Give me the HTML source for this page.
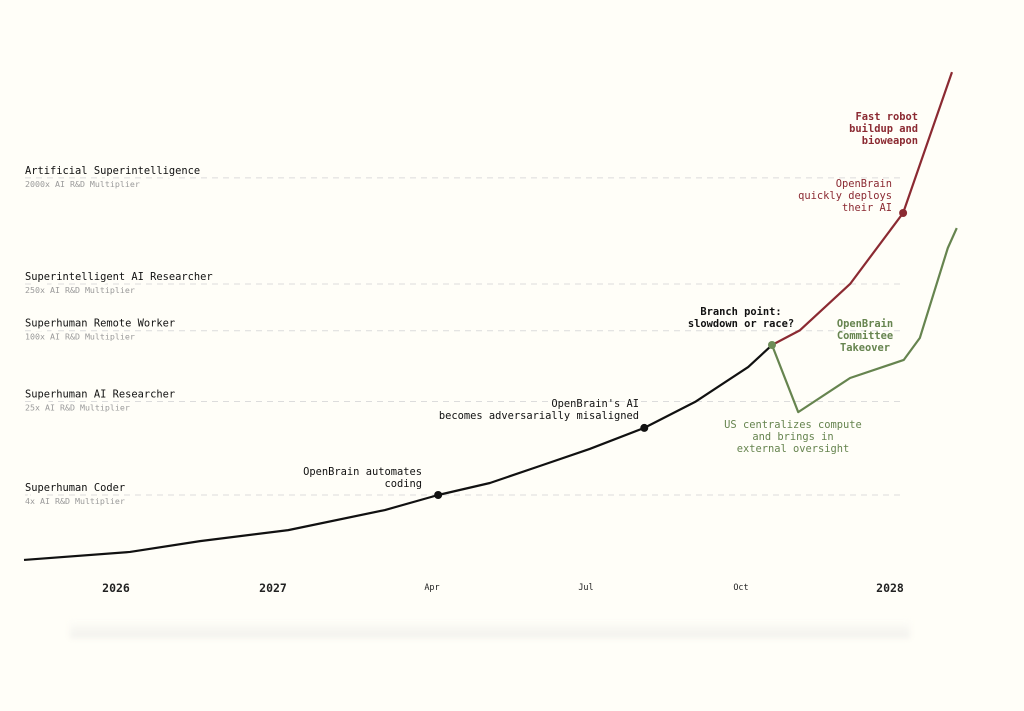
<!DOCTYPE html>
<html><head><meta charset="utf-8">
<style>
html,body{margin:0;padding:0;background:#fffef8;}
svg{display:block;font-family:"DejaVu Sans Mono","Liberation Mono",monospace;}
.shadow{position:absolute;left:70px;top:620px;width:840px;height:18px;background:linear-gradient(#fffef8,#f1f0ec);filter:blur(3px);}
</style></head>
<body>
<div class="shadow"></div>
<svg id="chart" width="1024" height="711" viewBox="0 0 1024 711" style="position:absolute;left:0;top:0">
<g id="levels"></g><g id="axis"></g><g id="series"></g><g id="annotations"></g>
</svg>
<script>
// Data
const levelNames = ["Superhuman Coder","Superhuman AI Researcher","Superhuman Remote Worker","Superintelligent AI Researcher","Artificial Superintelligence"];
const levelValues = [4,25,100,250,2000];
const tickDates = [2026,2027,2027.25,2027.5,2027.75,2028];
const tickLabels = ["2026","2027","Apr","Jul","Oct","2028"];
const mainDates = [2025.414,2026.089,2026.535,2027.024,2027.176,2027.26,2027.344,2027.425,2027.506,2027.594,2027.676,2027.762,2027.802];
const mainValues = [1.12,1.31,1.62,2.01,2.98,4,5.06,7.06,9.86,14.9,24.8,49.1,75.6];
const raceDates = [2027.802,2027.849,2027.933,2028.022,2028.104];
const raceValues = [75.6,101,250,1005,15900];
const slowDates = [2027.802,2027.846,2027.933,2028.023,2028.05,2028.097,2028.112];
const slowValues = [75.6,20.3,39.6,56.4,86.7,506,748];

const NS="http://www.w3.org/2000/svg";
const tickPx=[116,273,432,586,741,890];
function x(d){
  if(d<=tickDates[0]) return tickPx[0]+(d-tickDates[0])*157;
  for(let i=0;i<tickDates.length-1;i++){
    if(d<=tickDates[i+1]) return tickPx[i]+(d-tickDates[i])/(tickDates[i+1]-tickDates[i])*(tickPx[i+1]-tickPx[i]);
  }
  return tickPx[5]+(d-tickDates[5])*596;
}
function y(v){return 495-117.5*(Math.log10(v)-Math.log10(4));}
function mk(tag,attrs,parent,text){const e=document.createElementNS(NS,tag);for(const k in attrs)e.setAttribute(k,attrs[k]);if(text!==undefined)e.textContent=text;parent.appendChild(e);return e;}

const gL=document.getElementById('levels');
levelNames.forEach((n,i)=>{
  const yy=y(levelValues[i]);
  const ln=mk('line',{x1:25,x2:900,y1:yy,y2:yy,stroke:'#dcdcdc','stroke-width':1,'stroke-dasharray':'6 5'},gL);
  
  
  const t=mk('text',{x:25,y:yy-4,'font-size':'10.4px',fill:'#111',stroke:'#fffef8','stroke-width':5,'paint-order':'stroke'},gL,n);
  
  
  const s=mk('text',{x:25,y:yy+9,'font-size':'8.3px',fill:'#9a9a9a',stroke:'#fffef8','stroke-width':4,'paint-order':'stroke'},gL,levelValues[i]+'x AI R&D Multiplier');
  
  
});

const gA=document.getElementById('axis');
tickDates.forEach((d,i)=>{
  const big=tickLabels[i].length===4;
  const t=mk('text',{x:x(d),y:big?592:590,'text-anchor':'middle','font-size':big?'11.5px':'8.5px','font-weight':big?'bold':'normal',fill:'#222'},gA,tickLabels[i]);
  
  
});

const gS=document.getElementById('series');
function line(ds,vs,color,name){
  const p=mk('polyline',{points:ds.map((d,i)=>x(d)+','+y(vs[i])).join(' '),fill:'none',stroke:color,'stroke-width':2.2,'stroke-linejoin':'round'},gS);
  
  
}
line(slowDates,slowValues,'#66844f','slowdown-line');
line(raceDates,raceValues,'#8b2a32','race-line');
line(mainDates,mainValues,'#111','main-line');
function dot(d,v,c,name){
  const e=mk('circle',{cx:x(d),cy:y(v),r:4,fill:c},gS);
  
  
}
dot(mainDates[5],mainValues[5],'#111','coding-point');
dot(mainDates[9],mainValues[9],'#111','misaligned-point');
dot(raceDates[3],raceValues[3],'#8b2a32','deploy-point');
dot(mainDates[12],mainValues[12],'#6e8d58','branch-point');

const gN=document.getElementById('annotations');
function note(lines,xx,yy,anchor,color,bold,name){
  const t=mk('text',{x:xx,y:yy,'text-anchor':anchor,'font-size':'10.4px',fill:color,'font-weight':bold?'bold':'normal'},gN);
  
  
  lines.forEach((l,i)=>mk('tspan',{x:xx,dy:i?12:0},t,l));
}
note(["OpenBrain automates","coding"],422,475,'end','#111',false,'coding-annotation');
note(["OpenBrain's AI","becomes adversarially misaligned"],639,407,'end','#111',false,'misaligned-annotation');
note(["Branch point:","slowdown or race?"],741,315,'middle','#111',true,'branch-annotation');
note(["Fast robot","buildup and","bioweapon"],918,120,'end','#8b2a32',true,'robot-annotation');
note(["OpenBrain","quickly deploys","their AI"],892,187,'end','#8b2a32',false,'deploy-annotation');
note(["OpenBrain","Committee","Takeover"],865,327,'middle','#66844f',true,'takeover-annotation');
note(["US centralizes compute","and brings in","external oversight"],793,428,'middle','#66844f',false,'oversight-annotation');
</script>
</body></html>
